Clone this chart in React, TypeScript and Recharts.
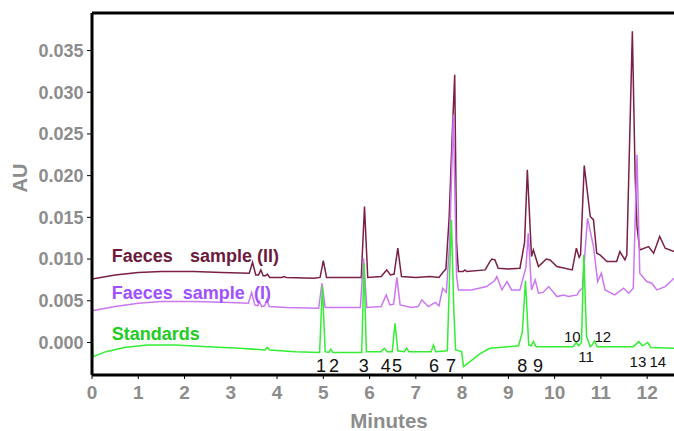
import { LineChart, Line, XAxis, YAxis, ReferenceLine, ReferenceDot } from 'recharts';

const FONT = 'Arial, "Liberation Sans", sans-serif';

const T_MAX = 12.58;
const AU_MIN = -0.0039;
const AU_MAX = 0.0395;

// [retention time (min), absorbance (AU)]
const sampleII: [number, number][] = [
  [0, 0.0076], [0.5, 0.0081], [1.0, 0.0084], [1.5, 0.0085], [2.2, 0.0085], [2.8, 0.0084],
  [3.4, 0.0083], [3.47, 0.0096], [3.54, 0.0081], [3.6, 0.0081], [3.65, 0.0087], [3.7, 0.008],
  [3.75, 0.008], [3.79, 0.0082], [3.84, 0.0078], [4.1, 0.0078], [4.15, 0.0079], [4.2, 0.0078],
  [4.8, 0.0077], [4.93, 0.0078], [5.0, 0.0098], [5.07, 0.0078], [5.82, 0.0078], [5.89, 0.0163],
  [5.96, 0.0078], [6.25, 0.0079], [6.37, 0.0087], [6.45, 0.0081], [6.53, 0.0082], [6.61, 0.0113],
  [6.69, 0.0079], [7.0, 0.0078], [7.3, 0.0079], [7.5, 0.0078], [7.6, 0.0085], [7.65, 0.0088],
  [7.72, 0.015], [7.78, 0.024], [7.84, 0.0321], [7.88, 0.012], [7.92, 0.0085], [8.02, 0.0085],
  [8.06, 0.0087], [8.1, 0.0085], [8.5, 0.0087], [8.6, 0.0097], [8.64, 0.01], [8.71, 0.0099],
  [8.78, 0.0089], [9.0, 0.0088], [9.25, 0.0089], [9.35, 0.012], [9.41, 0.0207], [9.5, 0.0103],
  [9.54, 0.0111], [9.65, 0.0091], [9.82, 0.01], [9.9, 0.0099], [10.05, 0.0091], [10.38, 0.0087],
  [10.47, 0.0113], [10.53, 0.0102], [10.56, 0.0105], [10.64, 0.0212], [10.77, 0.0151],
  [10.84, 0.0147], [10.91, 0.0107], [10.98, 0.0105], [11.13, 0.0097], [11.34, 0.0097],
  [11.41, 0.0109], [11.52, 0.0099], [11.56, 0.0105], [11.68, 0.0373], [11.74, 0.02],
  [11.78, 0.0139], [11.84, 0.0111], [12.03, 0.0115], [12.14, 0.0107], [12.27, 0.0127],
  [12.39, 0.0113], [12.58, 0.0109],
];

const sampleI: [number, number][] = [
  [0, 0.0038], [0.5, 0.0043], [1.0, 0.0047], [1.5, 0.0049], [2.2, 0.0049], [3.0, 0.0048],
  [3.38, 0.0047], [3.45, 0.006], [3.52, 0.0045], [3.58, 0.0044], [3.62, 0.0049], [3.67, 0.0043],
  [3.73, 0.0044], [3.78, 0.0051], [3.83, 0.0043], [4.2, 0.0042], [4.9, 0.0041], [4.97, 0.0071],
  [5.04, 0.0042], [5.8, 0.0042], [5.87, 0.0101], [5.94, 0.0042], [6.25, 0.0043], [6.36, 0.0057],
  [6.44, 0.0045], [6.52, 0.0046], [6.59, 0.0078], [6.66, 0.0045], [6.9, 0.0042], [7.05, 0.0043],
  [7.13, 0.0051], [7.27, 0.0043], [7.42, 0.0048], [7.5, 0.0044], [7.58, 0.0065], [7.66, 0.006],
  [7.73, 0.012], [7.81, 0.0273], [7.88, 0.008], [7.92, 0.0063], [8.2, 0.0063], [8.53, 0.0067],
  [8.7, 0.0074], [8.75, 0.0079], [8.86, 0.0063], [8.97, 0.0073], [9.07, 0.0063], [9.25, 0.0063],
  [9.38, 0.009], [9.43, 0.0131], [9.5, 0.0063], [9.58, 0.0075], [9.65, 0.0059], [9.75, 0.006],
  [9.87, 0.0067], [10.05, 0.0055], [10.2, 0.0057], [10.3, 0.0055], [10.49, 0.0057],
  [10.52, 0.0061], [10.6, 0.0065], [10.71, 0.0149], [10.84, 0.0115], [10.93, 0.0073],
  [11.01, 0.0083], [11.09, 0.0063], [11.3, 0.0057], [11.49, 0.0065], [11.6, 0.0059],
  [11.7, 0.0065], [11.78, 0.0225], [11.84, 0.0083], [11.99, 0.0073], [12.1, 0.0071],
  [12.21, 0.0063], [12.39, 0.0067], [12.58, 0.0077],
];

const standards: [number, number][] = [
  [0, 0.002], [0.02, -0.0017], [0.3, -0.0011], [0.7, -0.0006], [1.2, -0.0003], [1.8, -0.0003],
  [2.5, -0.0005], [3.2, -0.0007], [3.74, -0.0009], [3.79, -0.0006], [3.84, -0.0009],
  [4.4, -0.0011], [4.92, -0.0012], [4.98, 0.0068], [5.04, -0.0011], [5.12, -0.0012],
  [5.16, -0.0008], [5.21, -0.0012], [5.6, -0.0012], [5.83, -0.0012], [5.88, 0.0095],
  [5.93, -0.0011], [6.25, -0.0011], [6.32, -0.0007], [6.38, -0.0011], [6.49, -0.0011],
  [6.55, 0.0023], [6.61, -0.001], [6.75, -0.0011], [6.8, -0.0007], [6.85, -0.0011],
  [7.33, -0.0011], [7.38, -0.0003], [7.43, -0.0011], [7.68, -0.001], [7.74, 0.01],
  [7.77, 0.0147], [7.82, 0.004], [7.86, -0.0009], [7.99, -0.0011], [8.03, -0.0029],
  [8.4, -0.0013], [8.6, -0.0007], [9.0, -0.0005], [9.22, -0.0004], [9.3, 0.0012],
  [9.37, 0.0074], [9.44, -0.0003], [9.49, -0.0004], [9.54, 0.0001], [9.6, -0.0005],
  [10.4, -0.0005], [10.47, 0.0], [10.52, -0.0004], [10.58, 0.0], [10.63, 0.0105],
  [10.69, 0.0007], [10.77, -0.0005], [10.8, -0.0004], [10.86, 0.0002], [10.92, -0.0005],
  [11.7, -0.0005], [11.82, 0.0001], [11.9, -0.0004], [12.01, 0.0], [12.08, -0.0006],
  [12.58, -0.0007],
];

// peak numbers under the standards trace: label, time, AU
const peakLabels = ['1', '2', '3', '4', '5', '6', '7', '8', '9', '10', '11', '12', '13', '14'];
const peakLabelT = [4.95, 5.23, 5.875, 6.35, 6.595, 7.39, 7.76, 9.3, 9.64, 10.38, 10.68, 11.04, 11.8, 12.23];
const peakLabelAU = [
  -0.00273, -0.00273, -0.00273, -0.00273, -0.00273, -0.00273, -0.00273, -0.00273, -0.00273,
  0.00068, -0.00168, 0.00068, -0.00228, -0.00228,
];

const xMajor = [0, 1, 2, 3, 4, 5, 6, 7, 8, 9, 10, 11, 12];
const xMinor = [0.5, 1.5, 2.5, 3.5, 4.5, 5.5, 6.5, 7.5, 8.5, 9.5, 10.5, 11.5, 12.5];
const yMajor = [0, 0.005, 0.01, 0.015, 0.02, 0.025, 0.03, 0.035];
const yMinor = [-0.003, -0.002, -0.001, 0.001, 0.002, 0.003, 0.004, 0.006, 0.007, 0.008, 0.009,
  0.011, 0.012, 0.013, 0.014, 0.016, 0.017, 0.018, 0.019, 0.021, 0.022, 0.023, 0.024, 0.026,
  0.027, 0.028, 0.029, 0.031, 0.032, 0.033, 0.034, 0.036, 0.037, 0.038, 0.039];

const MAROON = '#7a1f45';
const VIOLET = '#cc77f2';
const GREEN = '#33ee33';
const GREY = '#8c8c8c';

const rows = (pts: [number, number][]) => pts.map(([t, au]) => ({ t, au }));

// series captions, placed at (time, AU) of their left edge
const captions = [
  { text: 'Faeces', t: 0.425, au: 0.0104, color: '#6e1a3c' },
  { text: 'sample (II)', t: 2.12, au: 0.0104, color: '#6e1a3c' },
  { text: 'Faeces', t: 0.425, au: 0.006, color: '#a050ff' },
  { text: 'sample', t: 1.96, au: 0.006, color: '#a050ff' },
  { text: '(I)', t: 3.5, au: 0.006, color: '#a050ff' },
  { text: 'Standards', t: 0.425, au: 0.00108, color: '#22cc22' },
];

const App = () => {
  return (
    <div style={{ position: 'absolute', left: 0, top: 0, width: 674, height: 431, background: '#fff' }}>
      <LineChart width={674} height={431} margin={{ top: 13, right: 0, bottom: 0, left: 0 }} style={{ fontFamily: FONT }}>
        <XAxis
          xAxisId="minor"
          type="number"
          dataKey="t"
          domain={[0, T_MAX]}
          allowDataOverflow
          ticks={xMinor}
          tick={false}
          tickSize={3}
          tickLine={{ stroke: '#000' }}
          axisLine={false}
          height={0}
        />
        <XAxis
          xAxisId="main"
          type="number"
          dataKey="t"
          domain={[0, T_MAX]}
          allowDataOverflow
          ticks={xMajor}
          tickSize={4}
          tickMargin={7}
          tickLine={{ stroke: '#000' }}
          axisLine={{ stroke: '#000', strokeWidth: 3 }}
          tick={{ fill: GREY, fontSize: 19, fontWeight: 'bold' }}
          height={56}
          label={{
            content: () => (
              <text x={389} y={428} textAnchor="middle" fill={GREY} fontSize={20.5} fontWeight="bold" fontFamily={FONT}>
                Minutes
              </text>
            ),
          }}
        />
        <YAxis
          yAxisId="minor"
          type="number"
          domain={[AU_MIN, AU_MAX]}
          allowDataOverflow
          ticks={yMinor}
          tick={false}
          tickSize={3}
          tickLine={{ stroke: '#000' }}
          axisLine={false}
          width={0}
        />
        <YAxis
          yAxisId="main"
          type="number"
          domain={[AU_MIN, AU_MAX]}
          allowDataOverflow
          ticks={yMajor}
          tickFormatter={(v: number) => v.toFixed(3)}
          tickSize={5}
          tickMargin={3.5}
          tickLine={{ stroke: '#000' }}
          axisLine={{ stroke: '#000', strokeWidth: 3 }}
          tick={{ fill: GREY, fontSize: 18, fontWeight: 'bold' }}
          width={92}
          label={{
            content: () => (
              <text x={27} y={178} transform="rotate(-90 27 178)" textAnchor="middle" fill={GREY} fontSize={20} fontWeight="bold" fontFamily={FONT}>
                AU
              </text>
            ),
          }}
        />
        <ReferenceLine xAxisId="main" yAxisId="main" y={AU_MAX} stroke="#000" strokeWidth={3} ifOverflow="visible" />

        <Line xAxisId="main" yAxisId="main" data={rows(sampleII)} dataKey="au" type="linear" stroke={MAROON} strokeWidth={1.5} dot={false} isAnimationActive={false} />
        <Line xAxisId="main" yAxisId="main" data={rows(sampleI)} dataKey="au" type="linear" stroke={VIOLET} strokeWidth={1.5} dot={false} isAnimationActive={false} />
        <Line xAxisId="main" yAxisId="main" data={rows(standards)} dataKey="au" type="linear" stroke={GREEN} strokeWidth={1.5} dot={false} isAnimationActive={false} />

        {captions.map((c, i) => (
          <ReferenceDot
            key={`cap-${i}`}
            xAxisId="main"
            yAxisId="main"
            x={c.t}
            y={c.au}
            r={0}
            stroke="none"
            fill="none"
            label={{ value: c.text, position: 'right', offset: 0, fill: c.color, fontSize: 18, fontWeight: 'bold' }}
          />
        ))}
        {peakLabels.map((p, i) => (
          <ReferenceDot
            key={`peak-${i}`}
            xAxisId="main"
            yAxisId="main"
            x={peakLabelT[i]}
            y={peakLabelAU[i]}
            r={0}
            stroke="none"
            fill="none"
            label={{ value: p, position: 'center', fill: '#111', fontSize: p.length > 1 ? 15 : 18 }}
          />
        ))}
      </LineChart>
    </div>
  );
};

export default App;
